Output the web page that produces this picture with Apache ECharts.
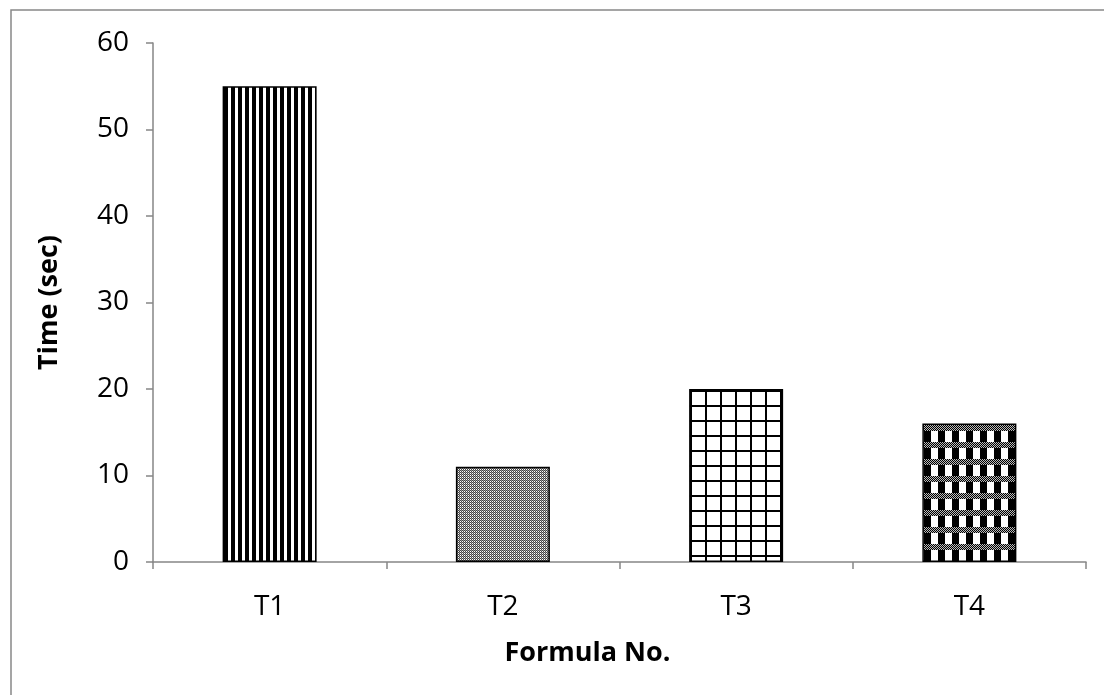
<!DOCTYPE html>
<html><head><meta charset="utf-8">
<script src="https://cdn.jsdelivr.net/npm/echarts@6/dist/echarts.min.js"></script>
<style>html,body{margin:0;padding:0;background:#fff}#c{width:1104px;height:695px}</style>
</head><body><div id="c"></div>
<script>
const categories = ['T1', 'T2', 'T3', 'T4'];
const times = [55, 11, 20, 16];
const yTicks = [0, 10, 20, 30, 40, 50, 60];

function mk(w, h, draw) {
  const c = document.createElement('canvas');
  c.width = w; c.height = h;
  const g = c.getContext('2d');
  g.fillStyle = '#fff'; g.fillRect(0, 0, w, h);
  draw(g);
  return { image: c, repeat: 'repeat' };
}
const pat = [
  mk(7, 4, g => { g.fillStyle = '#000'; g.fillRect(0, 0, 4, 4); }),
  mk(2, 2, g => { g.fillStyle = '#444'; g.fillRect(0, 0, 1, 1); g.fillRect(1, 1, 1, 1); g.fillStyle = '#999'; g.fillRect(1, 0, 1, 1); }),
  mk(15, 15, g => { g.fillStyle = '#000'; g.fillRect(0, 0, 2, 15); g.fillRect(0, 0, 15, 2); }),
  mk(14, 17, g => {
    for (let y = 0; y < 6; y++) for (let x = 0; x < 14; x++) {
      g.fillStyle = ((x + y) % 2) ? '#000' : '#bbb'; g.fillRect(x, y, 1, 1);
    }
    g.fillStyle = '#000'; g.fillRect(0, 6, 7, 11);
  })
];

const chart = echarts.init(document.getElementById('c'));
const font = '"Open Sans", "Noto Sans", sans-serif';
chart.setOption({
  animation: false,
  backgroundColor: '#fff',
  graphic: [{ type: 'rect', shape: { x: 11, y: 10, width: 1200, height: 800 }, style: { fill: 'none', stroke: '#888', lineWidth: 1.5 }, silent: true }],
  grid: { left: 153, right: 18, top: 43, bottom: 133 },
  xAxis: {
    type: 'category', data: categories,
    axisLine: { lineStyle: { color: '#868686', width: 1.5 } },
    axisTick: { show: true, length: 7, lineStyle: { color: '#868686', width: 1.5 } },
    axisLabel: { color: '#000', fontSize: 28, fontFamily: font, margin: 31 },
    name: 'Formula No.', nameLocation: 'middle', nameGap: 78,
    nameTextStyle: { color: '#000', fontSize: 27, fontWeight: 'bold', fontFamily: font, padding: [0, 64, 0, 0] }
  },
  yAxis: {
    type: 'value', min: 0, max: 60, interval: 10,
    axisLine: { show: true, lineStyle: { color: '#868686', width: 1.5 } },
    axisTick: { show: true, length: 7, lineStyle: { color: '#868686', width: 1.5 } },
    splitLine: { show: false },
    axisLabel: { color: '#000', fontSize: 28, fontFamily: font, margin: 24,
      formatter: v => yTicks.includes(v) ? String(v) : '' },
    name: 'Time (sec)', nameLocation: 'middle', nameGap: 90,
    nameTextStyle: { color: '#000', fontSize: 27, fontWeight: 'bold', fontFamily: font }
  },
  series: [{
    type: 'bar', barWidth: 94,
    data: times.map((v, i) => ({ value: v, itemStyle: { color: pat[i], borderColor: '#000', borderWidth: 1.5 } }))
  }]
});
</script></body></html>
